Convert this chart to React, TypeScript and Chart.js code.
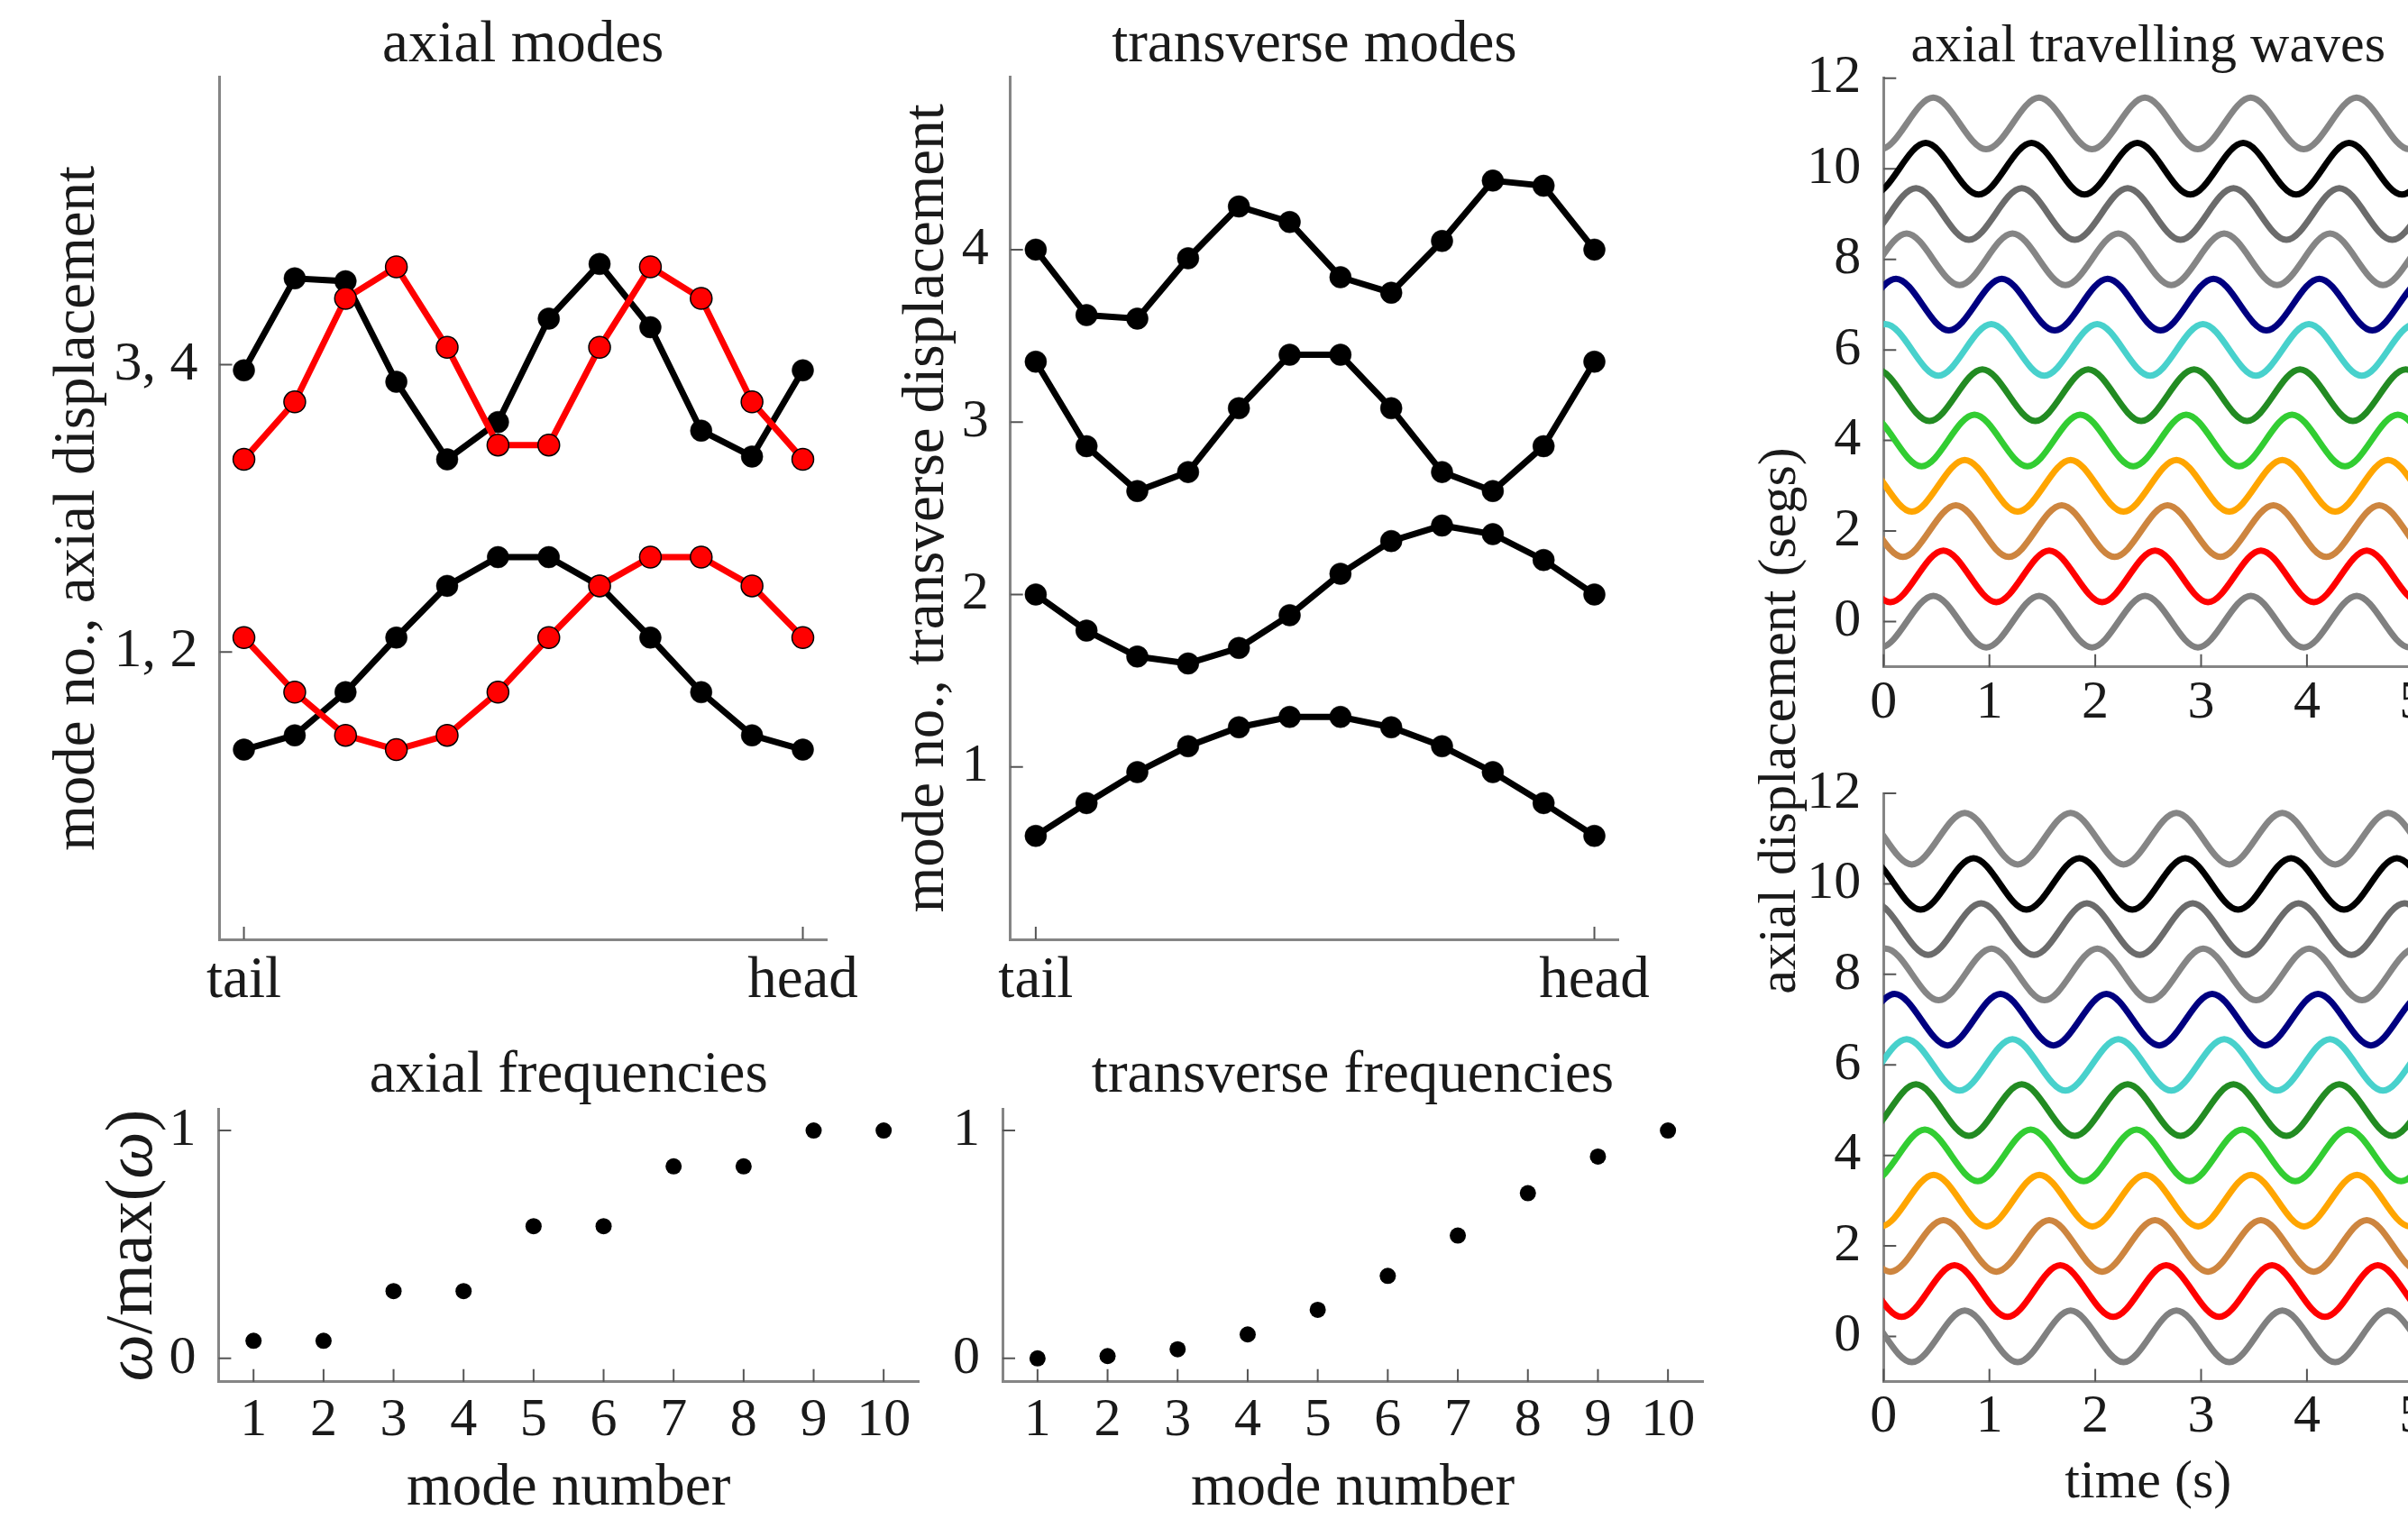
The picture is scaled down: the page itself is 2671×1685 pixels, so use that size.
import React, { useEffect, useRef } from 'react';
import { Chart, registerables } from 'chart.js';

Chart.register(...registerables);

const FONT_FAMILY = '"Liberation Serif", "DejaVu Serif", serif';
const TEXT_COLOR = '#1a1a1a';
const AXIS_COLOR = '#858585';
const TICK_COLOR = '#555555';

// ---------------- data ----------------
const segmentIndex = [0, 1, 2, 3, 4, 5, 6, 7, 8, 9, 10, 11];

// axial modes (mode offset on y: modes 1,2 around 1; modes 3,4 around 2)
const axialMode1 = [0.66, 0.71, 0.86, 1.05, 1.23, 1.33, 1.33, 1.23, 1.05, 0.86, 0.71, 0.66];
const axialMode2 = [1.05, 0.86, 0.71, 0.66, 0.71, 0.86, 1.05, 1.23, 1.33, 1.33, 1.23, 1.05];
const axialMode3 = [1.98, 2.3, 2.29, 1.94, 1.67, 1.8, 2.16, 2.35, 2.13, 1.77, 1.68, 1.98];
const axialMode4 = [1.67, 1.87, 2.23, 2.34, 2.06, 1.72, 1.72, 2.06, 2.34, 2.23, 1.87, 1.67];

// transverse modes
const transverseMode1 = [0.6, 0.79, 0.97, 1.12, 1.23, 1.29, 1.29, 1.23, 1.12, 0.97, 0.79, 0.6];
const transverseMode2 = [2.0, 1.79, 1.64, 1.6, 1.69, 1.88, 2.12, 2.31, 2.4, 2.35, 2.2, 2.0];
const transverseMode3 = [3.35, 2.86, 2.6, 2.71, 3.08, 3.39, 3.39, 3.08, 2.71, 2.6, 2.86, 3.35];
const transverseMode4 = [4.0, 3.62, 3.6, 3.95, 4.25, 4.16, 3.84, 3.75, 4.05, 4.4, 4.37, 4.0];

// frequencies
const modeNumbers = [1, 2, 3, 4, 5, 6, 7, 8, 9, 10];
const axialFrequency = [0.077, 0.077, 0.295, 0.295, 0.58, 0.58, 0.843, 0.843, 1.0, 1.0];
const transverseFrequency = [0.0, 0.01, 0.04, 0.105, 0.213, 0.362, 0.539, 0.725, 0.886, 1.0];

// travelling waves: one trace per segment, offset by segment number
const waveOffsets = [0, 1, 2, 3, 4, 5, 6, 7, 8, 9, 10, 11];
const waveColors = [
  '#808080', '#ff0000', '#cd853f', '#ffa500', '#32cd32', '#228b22',
  '#48d1cc', '#000080', '#858585', '#6b6b6b', '#000000', '#858585',
];
const waveAmplitude = 0.57;
const wavePeriod = 1;
// time (s) of a crest of each trace
const wavePeakTimeTop = [0.47, 0.565, 0.683, 0.767, 0.859, 0.934, 0.018, 0.117, 0.218, 0.306, 0.398, 0.469];
const wavePeakTimeBottom = [0.767, 0.67, 0.565, 0.473, 0.39, 0.306, 0.218, 0.105, 0.02, 0.921, 0.85, 0.767];

// ticks
const bodyTickValues = [0, 11];
const bodyTickLabels = ['tail', 'head'];
const axialModeTickValues = [1, 2];
const axialModeTickLabels = ['1, 2', '3, 4'];
const transverseModeTickValues = [1, 2, 3, 4];
const frequencyXTicks = [1, 2, 3, 4, 5, 6, 7, 8, 9, 10];
const frequencyYTicks = [0, 1];
const waveTimeTicks = [0, 1, 2, 3, 4, 5];
const waveDisplacementTicks = [0, 2, 4, 6, 8, 10, 12];

// ---------------- helpers ----------------
type Box = { x: number; y: number; w: number; h: number };
type Area = { L: number; T: number; R: number; B: number };
type AxisSpec = { min: number; max: number; ticks: number[]; labels?: string[]; font: number; pad: number };
type Part = { text: string; italic?: boolean };
type TextSpec = { parts: Part[]; size: number; rotate?: boolean; at: (a: any) => { x: number; y: number } };
type PanelSpec = {
  id: string;
  box: Box;
  area: Area;
  x: AxisSpec;
  y: AxisSpec;
  datasets: any[];
  texts: TextSpec[];
};

function modeLine(values: number[], red: boolean) {
  return {
    data: segmentIndex.map((s, i) => ({ x: s, y: values[i] })),
    borderColor: red ? '#ff0000' : '#000000',
    borderWidth: 7,
    tension: 0,
    pointRadius: 12,
    pointBackgroundColor: red ? '#ff0000' : '#000000',
    pointBorderColor: '#000000',
    pointBorderWidth: red ? 1.5 : 0.5,
    order: red ? 1 : 2,
  };
}

function freqDots(values: number[]) {
  return {
    data: modeNumbers.map((m, i) => ({ x: m, y: values[i] })),
    showLine: false,
    pointRadius: 9,
    pointBackgroundColor: '#000000',
    pointBorderColor: '#000000',
    pointBorderWidth: 0,
  };
}

function waveTraces(peakTimes: number[]) {
  return waveOffsets.map((k, i) => {
    const pts: { x: number; y: number }[] = [];
    for (let n = -4; n <= 13; n++) {
      const t = peakTimes[i] + (n * wavePeriod) / 2;
      pts.push({ x: t, y: k + (n % 2 === 0 ? waveAmplitude : -waveAmplitude) });
    }
    return {
      data: pts,
      borderColor: waveColors[i],
      borderWidth: 7,
      pointRadius: 0,
      cubicInterpolationMode: 'monotone',
      capBezierPoints: false,
      borderJoinStyle: 'round',
    };
  });
}

function txt(text: string, size: number, at: (a: any) => { x: number; y: number }, rotate = false): TextSpec {
  return { parts: [{ text }], size, at, rotate };
}

const TL = 65; // left column text size
const TR = 60; // right column text size
const TICK_FONT = 60;

// ---------------- panels ----------------
const panels: PanelSpec[] = [
  {
    id: 'axialModes',
    box: { x: 0, y: 0, w: 1000, h: 1150 },
    area: { L: 243.5, T: 85.6, R: 917, B: 1042 },
    x: { min: -0.48, max: 11.47, ticks: bodyTickValues, labels: bodyTickLabels, font: 65, pad: 0 },
    y: { min: 0, max: 3, ticks: axialModeTickValues, labels: axialModeTickLabels, font: 62, pad: 16 },
    datasets: [
      modeLine(axialMode1, false),
      modeLine(axialMode2, true),
      modeLine(axialMode3, false),
      modeLine(axialMode4, true),
    ],
    texts: [
      txt('axial modes', TL, (a) => ({ x: (a.left + a.right) / 2, y: a.top - 18 })),
      txt('mode no., axial displacement', TL, (a) => ({ x: a.left - 140, y: (a.top + a.bottom) / 2 }), true),
    ],
  },
  {
    id: 'transverseModes',
    box: { x: 1000, y: 0, w: 880, h: 1150 },
    area: { L: 1120.7, T: 85.6, R: 1795, B: 1042 },
    x: { min: -0.5, max: 11.47, ticks: bodyTickValues, labels: bodyTickLabels, font: 65, pad: 0 },
    y: { min: 0, max: 5, ticks: transverseModeTickValues, font: TICK_FONT, pad: 16 },
    datasets: [
      modeLine(transverseMode1, false),
      modeLine(transverseMode2, false),
      modeLine(transverseMode3, false),
      modeLine(transverseMode4, false),
    ],
    texts: [
      txt('transverse modes', TL, (a) => ({ x: (a.left + a.right) / 2, y: a.top - 18 })),
      txt('mode no., transverse displacement', TL, (a) => ({ x: a.left - 75, y: (a.top + a.bottom) / 2 }), true),
    ],
  },
  {
    id: 'axialFrequencies',
    box: { x: 0, y: 1150, w: 1060, h: 535 },
    area: { L: 242.4, T: 1230.6, R: 1019, B: 1532.8 },
    x: { min: 0.5, max: 10.5, ticks: frequencyXTicks, font: TICK_FONT, pad: -1 },
    y: { min: -0.103, max: 1.093, ticks: frequencyYTicks, font: TICK_FONT, pad: 17 },
    datasets: [freqDots(axialFrequency)],
    texts: [
      txt('axial frequencies', TL, (a) => ({ x: (a.left + a.right) / 2, y: a.top - 19.6 })),
      {
        parts: [{ text: 'ω', italic: true }, { text: '/max(' }, { text: 'ω', italic: true }, { text: ')' }],
        size: 74,
        rotate: true,
        at: (a) => ({ x: a.left - 74, y: (a.top + a.bottom) / 2 }),
      },
      txt('mode number', TL, (a) => ({ x: (a.left + a.right) / 2, y: a.bottom + 136 })),
    ],
  },
  {
    id: 'transverseFrequencies',
    box: { x: 1040, y: 1150, w: 880, h: 535 },
    area: { L: 1112, T: 1230.6, R: 1889, B: 1532.8 },
    x: { min: 0.5, max: 10.5, ticks: frequencyXTicks, font: TICK_FONT, pad: -1 },
    y: { min: -0.103, max: 1.093, ticks: frequencyYTicks, font: TICK_FONT, pad: 17 },
    datasets: [freqDots(transverseFrequency)],
    texts: [
      txt('transverse frequencies', TL, (a) => ({ x: (a.left + a.right) / 2, y: a.top - 19.6 })),
      txt('mode number', TL, (a) => ({ x: (a.left + a.right) / 2, y: a.bottom + 136 })),
    ],
  },
  {
    id: 'wavesTop',
    box: { x: 1920, y: 0, w: 820, h: 830 },
    area: { L: 2089.3, T: 86.7, R: 2676.3, B: 739.8 },
    x: { min: 0, max: 5, ticks: waveTimeTicks, font: TICK_FONT, pad: -4 },
    y: { min: -1, max: 12, ticks: waveDisplacementTicks, font: TICK_FONT, pad: 17 },
    datasets: waveTraces(wavePeakTimeTop),
    texts: [txt('axial travelling waves', TR, (a) => ({ x: (a.left + a.right) / 2, y: a.top - 18.7 }))],
  },
  {
    id: 'wavesBottom',
    box: { x: 1920, y: 420, w: 820, h: 1265 },
    area: { L: 2089.3, T: 880.1, R: 2676.3, B: 1532.6 },
    x: { min: 0, max: 5, ticks: waveTimeTicks, font: TICK_FONT, pad: -4 },
    y: { min: -1, max: 12, ticks: waveDisplacementTicks, font: TICK_FONT, pad: 17 },
    datasets: waveTraces(wavePeakTimeBottom),
    texts: [
      txt('axial displacement (segs)', TR, (a) => ({ x: a.left - 98.6, y: 799.5 - 420 }), true),
      txt('time (s)', TR, (a) => ({ x: (a.left + a.right) / 2, y: a.bottom + 128 })),
    ],
  },
];

// ---------------- plugins ----------------
const inwardTicks = {
  id: 'inwardTicks',
  beforeDatasetsDraw(chart: any) {
    const ctx = chart.ctx;
    const a = chart.chartArea;
    const xs = chart.scales.x;
    const ys = chart.scales.y;
    const len = 14;
    ctx.save();
    ctx.strokeStyle = TICK_COLOR;
    ctx.lineWidth = 2;
    ctx.beginPath();
    xs.ticks.forEach((t: any) => {
      const px = xs.getPixelForValue(t.value);
      ctx.moveTo(px, a.bottom);
      ctx.lineTo(px, a.bottom - len);
    });
    ys.ticks.forEach((t: any) => {
      const py = ys.getPixelForValue(t.value);
      ctx.moveTo(a.left, py);
      ctx.lineTo(a.left + len, py);
    });
    ctx.stroke();
    ctx.restore();
  },
};

function fontString(size: number, italic?: boolean) {
  return `${italic ? 'italic ' : ''}${size}px ${FONT_FAMILY}`;
}

function textPlugin(texts: TextSpec[]) {
  return {
    id: 'panelText',
    afterDraw(chart: any) {
      const ctx = chart.ctx;
      const a = chart.chartArea;
      texts.forEach((t) => {
        const p = t.at(a);
        ctx.save();
        ctx.fillStyle = TEXT_COLOR;
        ctx.textBaseline = 'alphabetic';
        ctx.textAlign = 'left';
        ctx.translate(p.x, p.y);
        if (t.rotate) ctx.rotate(-Math.PI / 2);
        let total = 0;
        const widths = t.parts.map((part) => {
          ctx.font = fontString(t.size, part.italic);
          const w = ctx.measureText(part.text).width;
          total += w;
          return w;
        });
        let cx = -total / 2;
        t.parts.forEach((part, i) => {
          ctx.font = fontString(t.size, part.italic);
          ctx.fillText(part.text, cx, 0);
          cx += widths[i];
        });
        ctx.restore();
      });
    },
  };
}

function axisOptions(spec: AxisSpec, horizontal: boolean, fitSize: number) {
  return {
    type: 'linear',
    position: horizontal ? 'bottom' : 'left',
    min: spec.min,
    max: spec.max,
    bounds: 'data',
    grid: { display: false },
    border: { display: true, color: AXIS_COLOR, width: 3 },
    ticks: {
      color: TEXT_COLOR,
      font: { family: FONT_FAMILY, size: spec.font },
      padding: spec.pad,
      autoSkip: false,
      maxRotation: 0,
      minRotation: 0,
      callback: (v: number) => {
        const i = spec.ticks.indexOf(v);
        return spec.labels && i >= 0 ? spec.labels[i] : String(v);
      },
    },
    afterBuildTicks: (s: any) => {
      s.ticks = spec.ticks.map((v) => ({ value: v }));
    },
    afterFit: (s: any) => {
      if (horizontal) {
        s.height = fitSize;
        s.paddingLeft = 0;
        s.paddingRight = 0;
      } else {
        s.width = fitSize;
        s.paddingTop = 0;
        s.paddingBottom = 0;
      }
    },
  };
}

function PanelCanvas({ spec }: { spec: PanelSpec }) {
  const ref = useRef<HTMLCanvasElement>(null);
  useEffect(() => {
    const canvas = ref.current;
    if (!canvas) return;
    const { box, area } = spec;
    const chart = new Chart(canvas, {
      type: 'line',
      data: { datasets: spec.datasets },
      options: {
        animation: false,
        responsive: false,
        devicePixelRatio: 1,
        events: [],
        layout: {
          padding: { left: 0, bottom: 0, top: area.T - box.y, right: box.x + box.w - area.R },
        },
        plugins: {
          legend: { display: false },
          tooltip: { enabled: false },
          title: { display: false },
        },
        scales: {
          x: axisOptions(spec.x, true, box.y + box.h - area.B),
          y: axisOptions(spec.y, false, area.L - box.x),
        },
      } as any,
      plugins: [inwardTicks, textPlugin(spec.texts)],
    } as any);
    return () => chart.destroy();
  }, [spec]);
  return (
    <canvas
      ref={ref}
      width={spec.box.w}
      height={spec.box.h}
      style={{
        position: 'absolute',
        left: spec.box.x,
        top: spec.box.y,
        width: spec.box.w,
        height: spec.box.h,
      }}
    />
  );
}

export default function App() {
  return (
    <div
      style={{
        position: 'absolute',
        left: 0,
        top: 0,
        width: 2671,
        height: 1685,
        overflow: 'hidden',
        background: '#ffffff',
      }}
    >
      {panels.map((p) => (
        <PanelCanvas key={p.id} spec={p} />
      ))}
    </div>
  );
}
